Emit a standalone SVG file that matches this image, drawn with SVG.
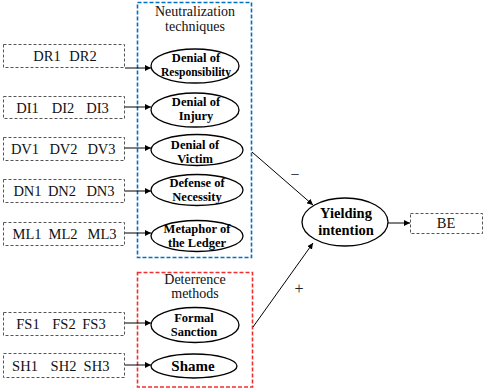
<svg xmlns="http://www.w3.org/2000/svg" width="484" height="390" viewBox="0 0 484 390" font-family="'Liberation Serif', 'Times New Roman', serif">
<defs>
<marker id="ah" viewBox="0 0 10 10" refX="10" refY="5" markerWidth="6" markerHeight="6" orient="auto" markerUnits="userSpaceOnUse"><path d="M0,0 L10,5 L0,10 z" fill="#000"/></marker>
<style>
.ind{fill:#fff;stroke:#555;stroke-width:1;stroke-dasharray:3 2}
.ind-t{font-family:'Liberation Serif',serif;font-size:14.5px;fill:#111;text-anchor:middle}
.lat{fill:#fff;stroke:#000;stroke-width:1.3}
.lat-t{font-family:'Liberation Serif',serif;font-weight:bold;font-size:12.5px;fill:#000;text-anchor:middle}
.hdr{font-family:'Liberation Serif',serif;font-size:14px;fill:#111;text-anchor:middle}
.conn{stroke:#000;stroke-width:1;fill:none;marker-end:url(#ah)}
.sign{font-family:'Liberation Serif',serif;font-size:16px;fill:#222;text-anchor:middle}
</style>
</defs>
<rect width="484" height="390" fill="#fff"/>

<g id="group-neutralization">
<rect x="137.5" y="2.5" width="114" height="255" fill="none" stroke="#0070C0" stroke-width="1.6" stroke-dasharray="4 2"/>
<text class="hdr" x="195" y="16">Neutralization</text>
<text class="hdr" x="195" y="31">techniques</text>
</g>
<g id="group-deterrence">
<rect x="137.5" y="272.5" width="115" height="114.5" fill="none" stroke="#F03030" stroke-width="1.6" stroke-dasharray="4 2"/>
<text class="hdr" x="195" y="284">Deterrence</text>
<text class="hdr" x="195" y="298">methods</text>
</g>

<g id="ind-DR"><rect class="ind" x="3.5" y="44.5" width="121" height="23"/><text class="ind-t" y="61"><tspan x="47">DR1</tspan><tspan x="83">DR2</tspan></text></g>
<g id="ind-DI"><rect class="ind" x="3.5" y="96.5" width="121" height="22"/><text class="ind-t" y="113"><tspan x="27.5">DI1</tspan><tspan x="63">DI2</tspan><tspan x="97.5">DI3</tspan></text></g>
<g id="ind-DV"><rect class="ind" x="3.5" y="137.5" width="121" height="23"/><text class="ind-t" y="154"><tspan x="25">DV1</tspan><tspan x="63.5">DV2</tspan><tspan x="101.5">DV3</tspan></text></g>
<g id="ind-DN"><rect class="ind" x="3.5" y="179.5" width="121" height="23"/><text class="ind-t" y="196"><tspan x="27.5">DN1</tspan><tspan x="62">DN2</tspan><tspan x="100.5">DN3</tspan></text></g>
<g id="ind-ML"><rect class="ind" x="3.5" y="222.5" width="121" height="23"/><text class="ind-t" y="239"><tspan x="27">ML1</tspan><tspan x="63">ML2</tspan><tspan x="102">ML3</tspan></text></g>
<g id="ind-FS"><rect class="ind" x="3.5" y="312.5" width="121" height="23"/><text class="ind-t" y="329"><tspan x="28">FS1</tspan><tspan x="64">FS2</tspan><tspan x="94">FS3</tspan></text></g>
<g id="ind-SH"><rect class="ind" x="3.5" y="353.5" width="121" height="24"/><text class="ind-t" y="371"><tspan x="25">SH1</tspan><tspan x="63.5">SH2</tspan><tspan x="96.5">SH3</tspan></text></g>

<g id="lat-DR"><ellipse class="lat" cx="195" cy="66" rx="44" ry="17"/><text class="lat-t" x="196" y="62">Denial of</text><text class="lat-t" x="196" y="76" textLength="70" lengthAdjust="spacingAndGlyphs">Responsibility</text></g>
<g id="lat-DI"><ellipse class="lat" cx="195" cy="110" rx="44" ry="17"/><text class="lat-t" x="196" y="106">Denial of</text><text class="lat-t" x="196" y="120">Injury</text></g>
<g id="lat-DV"><ellipse class="lat" cx="197" cy="150" rx="46" ry="15.5"/><text class="lat-t" x="195" y="149">Denial of</text><text class="lat-t" x="195" y="163">Victim</text></g>
<g id="lat-DN"><ellipse class="lat" cx="197" cy="190" rx="46" ry="15.5"/><text class="lat-t" x="197" y="187">Defense of</text><text class="lat-t" x="197" y="201">Necessity</text></g>
<g id="lat-ML"><ellipse class="lat" cx="197" cy="236" rx="46" ry="15.5"/><text class="lat-t" x="197" y="233">Metaphor of</text><text class="lat-t" x="197" y="247">the Ledger</text></g>
<g id="lat-FS"><ellipse class="lat" cx="195" cy="325" rx="44" ry="17.5"/><text class="lat-t" x="194" y="322">Formal</text><text class="lat-t" x="194" y="336">Sanction</text></g>
<g id="lat-SH"><ellipse class="lat" cx="194" cy="366" rx="43" ry="12"/><text class="lat-t" x="193" y="371" style="font-size:15px">Shame</text></g>

<g id="lat-YI"><ellipse class="lat" cx="345" cy="222" rx="43" ry="24"/><text class="lat-t" x="346" y="218" style="font-size:14.5px">Yielding</text><text class="lat-t" x="346" y="235" style="font-size:14.5px">intention</text></g>
<g id="ind-BE"><rect class="ind" x="410.5" y="213.5" width="72" height="20"/><text class="ind-t" x="446" y="228">BE</text></g>

<g id="connectors">
<line class="conn" x1="125" y1="68" x2="151" y2="68"/>
<line class="conn" x1="125" y1="107" x2="151" y2="107"/>
<line class="conn" x1="125" y1="148" x2="151" y2="148"/>
<line class="conn" x1="125" y1="191" x2="151" y2="191"/>
<line class="conn" x1="125" y1="233" x2="151" y2="233"/>
<line class="conn" x1="125" y1="323" x2="151" y2="323"/>
<line class="conn" x1="125" y1="365" x2="151" y2="365"/>
<line class="conn" x1="252" y1="152" x2="313" y2="205"/>
<line class="conn" x1="253" y1="327" x2="313" y2="243"/>
<line class="conn" x1="388" y1="223" x2="410" y2="223"/>
<text class="sign" x="295" y="180">−</text>
<text class="sign" x="299" y="294">+</text>
</g>
</svg>
